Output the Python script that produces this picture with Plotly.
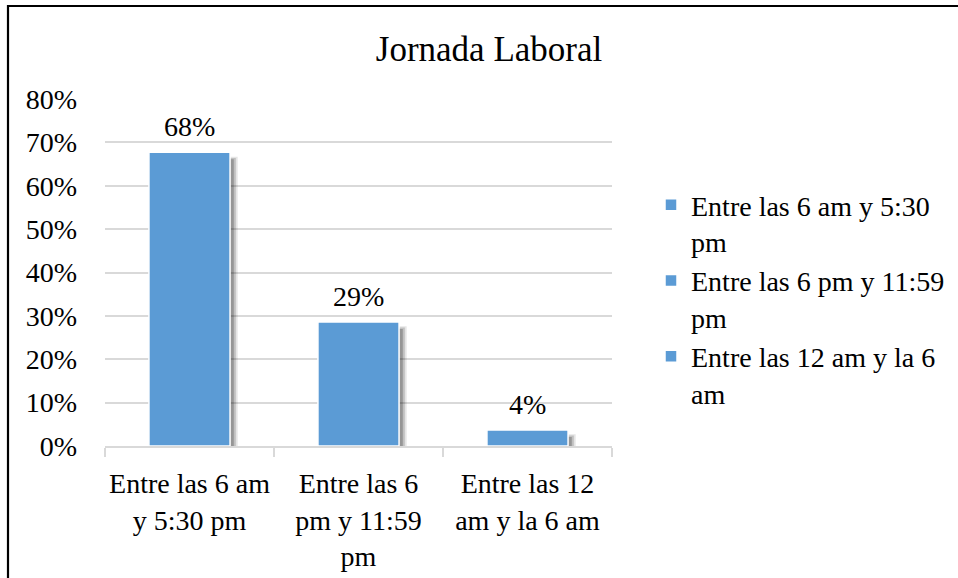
import plotly.graph_objects as go

categories = ["Entre las 6 am<br>y 5:30 pm", "Entre las 6<br>pm y 11:59<br>pm", "Entre las 12<br>am y la 6 am"]
legend_names = ["Entre las 6 am y 5:30<br>pm", "Entre las 6 pm y 11:59<br>pm", "Entre las 12 am y la 6<br>am"]
values = [0.677, 0.286, 0.037]
y_ticks = [0, 0.1, 0.2, 0.3, 0.4, 0.5, 0.6, 0.7, 0.8]
title_text = "Jornada Laboral"

FONT = "Liberation Serif, Times New Roman, serif"
BLUE = "#5B9BD5"
W, H = 958, 578
L, R, T, B = 105, 346, 99, 132
pw, ph = W - L - R, H - T - B

fig = go.Figure()

# soft shadows (bottom-right), derived from the same values
for c, v in zip(categories, values):
    fig.add_trace(go.Bar(x=[c], y=[v - 0.004], base=[-0.006], width=0.48, offset=-0.24 + 0.045,
                         marker=dict(color="rgba(0,0,0,0.10)", line=dict(width=0)),
                         showlegend=False, hoverinfo="skip"))
    fig.add_trace(go.Bar(x=[c], y=[v - 0.007], base=[-0.006], width=0.48, offset=-0.24 + 0.034,
                         marker=dict(color="rgba(0,0,0,0.16)", line=dict(width=0)),
                         showlegend=False, hoverinfo="skip"))
    fig.add_trace(go.Bar(x=[c], y=[v - 0.010], base=[-0.006], width=0.48, offset=-0.24 + 0.022,
                         marker=dict(color="rgba(0,0,0,0.22)", line=dict(width=0)),
                         showlegend=False, hoverinfo="skip"))

for c, v, n in zip(categories, values, legend_names):
    fig.add_trace(go.Bar(x=[c], y=[v], width=0.48, name=n,
                         marker=dict(color=BLUE, line=dict(color="white", width=1.5))))

for c, v in zip(categories, values):
    fig.add_annotation(x=c, y=v, text=f"{round(v*100):.0f}%", showarrow=False,
                       yanchor="bottom", yshift=8, font=dict(family=FONT, size=28, color="#000"))

fig.update_layout(
    width=W, height=H,
    margin=dict(l=L, r=R, t=T, b=B, autoexpand=False),
    paper_bgcolor="white", plot_bgcolor="white",
    barmode="overlay",
    bargap=0.52,
    font=dict(family=FONT, color="#000"),
    title=dict(text=title_text, x=(489) / W, xanchor="center", y=1 - 49 / H, yanchor="middle",
               font=dict(family=FONT, size=35, color="#000")),
    legend=dict(x=(651 - L) / pw, xanchor="left", y=(446 - 180) / ph, yanchor="top",
                valign="top", font=dict(family=FONT, size=28, color="#000"),
                bgcolor="rgba(0,0,0,0)", itemwidth=30, tracegroupgap=0),
    showlegend=True,
)
fig.update_xaxes(showgrid=False, showline=True, linecolor="#D9D9D9", linewidth=1.5,
                 ticks="outside", tickson="boundaries", ticklen=9, tickcolor="#D9D9D9", tickwidth=1.5,
                 tickangle=0, automargin=False,
                 tickfont=dict(family=FONT, size=28, color="#000"), ticklabelstandoff=12)
fig.update_yaxes(range=[0, 0.8], tickvals=y_ticks, tickformat=".0%", showgrid=True, gridcolor="#D9D9D9",
                 gridwidth=1.5, zeroline=False, showline=False, ticks="", automargin=False,
                 tickfont=dict(family=FONT, size=28, color="#000"), ticklabelstandoff=27)

fig.add_shape(type="rect", xref="paper", yref="paper",
              x0=(8 - L) / pw, x1=2.0, y0=-1.0, y1=(446 - 6) / ph,
              line=dict(color="black", width=2.2), fillcolor="rgba(0,0,0,0)", layer="below")

fig.write_html("out.html", config={"displayModeBar": False},
               post_script="document.body.style.margin='0px';document.body.style.overflow='hidden';")
